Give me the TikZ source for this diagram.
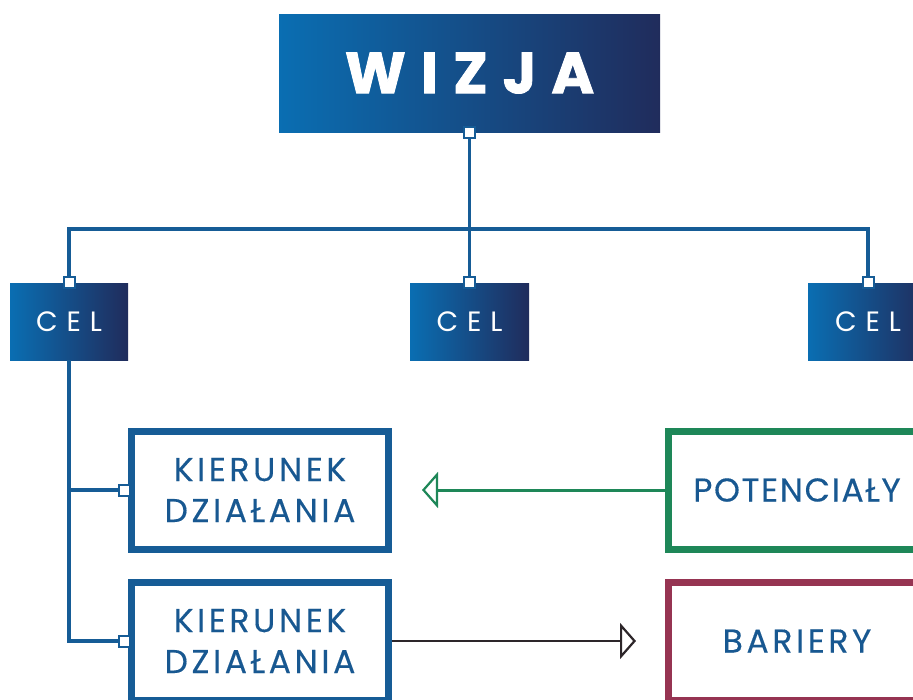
\documentclass[tikz,border=0pt]{standalone}
\usepackage{fontspec}
\setmainfont{Poppins}
\usetikzlibrary{arrows.meta}
\definecolor{dblue}{RGB}{22,92,150}
\definecolor{gleft}{RGB}{10,110,178}
\definecolor{gmid}{RGB}{18,80,145}
\definecolor{gright}{RGB}{32,44,92}
\definecolor{pgreen}{RGB}{30,135,88}
\definecolor{bmaroon}{RGB}{150,52,82}
\definecolor{txtblue}{RGB}{24,88,145}
\definecolor{darkline}{RGB}{45,38,42}
\tikzset{
  x=1pt, y=-1pt,
  gradbox/.style={shading=axis, left color=gleft, middle color=gmid, right color=gright, shading angle=90, inner sep=0pt, text=white},
  celbox/.style={gradbox, minimum height=77pt, font=\fontsize{28}{30}\selectfont\addfontfeature{LetterSpace=32}},
  framebox/.style={draw, line width=7pt, fill=white, minimum width=257pt, minimum height=118pt, inner sep=0pt, text=txtblue, align=center, font=\fontsize{33}{41}\selectfont\addfontfeature{LetterSpace=11,FakeBold=0.3}},
  conn/.style={draw=dblue, line width=3.5pt},
  sq/.style={draw=dblue, line width=2pt, fill=white, minimum size=11pt, inner sep=0pt},
  tipo/.style={-{Triangle[open, length=16pt, width=36pt, line width=2.2pt]}},
}
\begin{document}
\begin{tikzpicture}
\useasboundingbox (0,0) rectangle (913,699);
\fill[white] (0,0) rectangle (913,699);
% nodes
\node[gradbox, minimum width=381pt, minimum height=118pt, font=\fontsize{58}{60}\selectfont\bfseries\addfontfeature{LetterSpace=26,FakeBold=1.5}] (wizja) at (469.5,73) {WIZJA};
\node[celbox, minimum width=118pt] (cel1) at (69,321.5) {CEL};
\node[celbox, minimum width=119pt] (cel2) at (469.5,321.5) {CEL};
\node[celbox, minimum width=120pt] (cel3) at (868,321.5) {CEL};
\node[framebox, draw=dblue] (k1) at (260,490) {KIERUNEK\\DZIAŁANIA};
\node[framebox, draw=dblue] (k2) at (260,641) {KIERUNEK\\DZIAŁANIA};
\node[framebox, draw=pgreen, font=\fontsize{33}{41}\selectfont\addfontfeature{LetterSpace=5,FakeBold=0.3}] (pot) at (797,490) {POTENCIAŁY};
\node[framebox, draw=bmaroon] (bar) at (797,641) {BARIERY};
% connectors
\coordinate (bus) at (469.5,229);
\draw[conn] (wizja.south) -- (bus);
\draw[conn] (cel1.north) |- (bus) -| (cel3.north);
\draw[conn] (bus) -- (cel2.north);
\draw[conn] (cel1.south) |- (k1.west);
\draw[conn] (cel1.south) |- (k2.west);
\coordinate (potend) at (422,490);
\coordinate (barend) at (636,641);
\draw[draw=pgreen, line width=3pt, tipo] (pot.west) -- (potend);
\draw[draw=darkline, line width=2.5pt, tipo] (k2.east) -- (barend);
% connector squares
\node[sq] (s0) at (wizja.south) {};
\node[sq] (s1) at (cel1.north) {};
\node[sq] (s2) at (cel2.north) {};
\node[sq] (s3) at (cel3.north) {};
\node[sq] (s4) at ([xshift=-3.5pt]k1.west) {};
\node[sq] (s5) at ([xshift=-3.5pt]k2.west) {};
\end{tikzpicture}
\end{document}
